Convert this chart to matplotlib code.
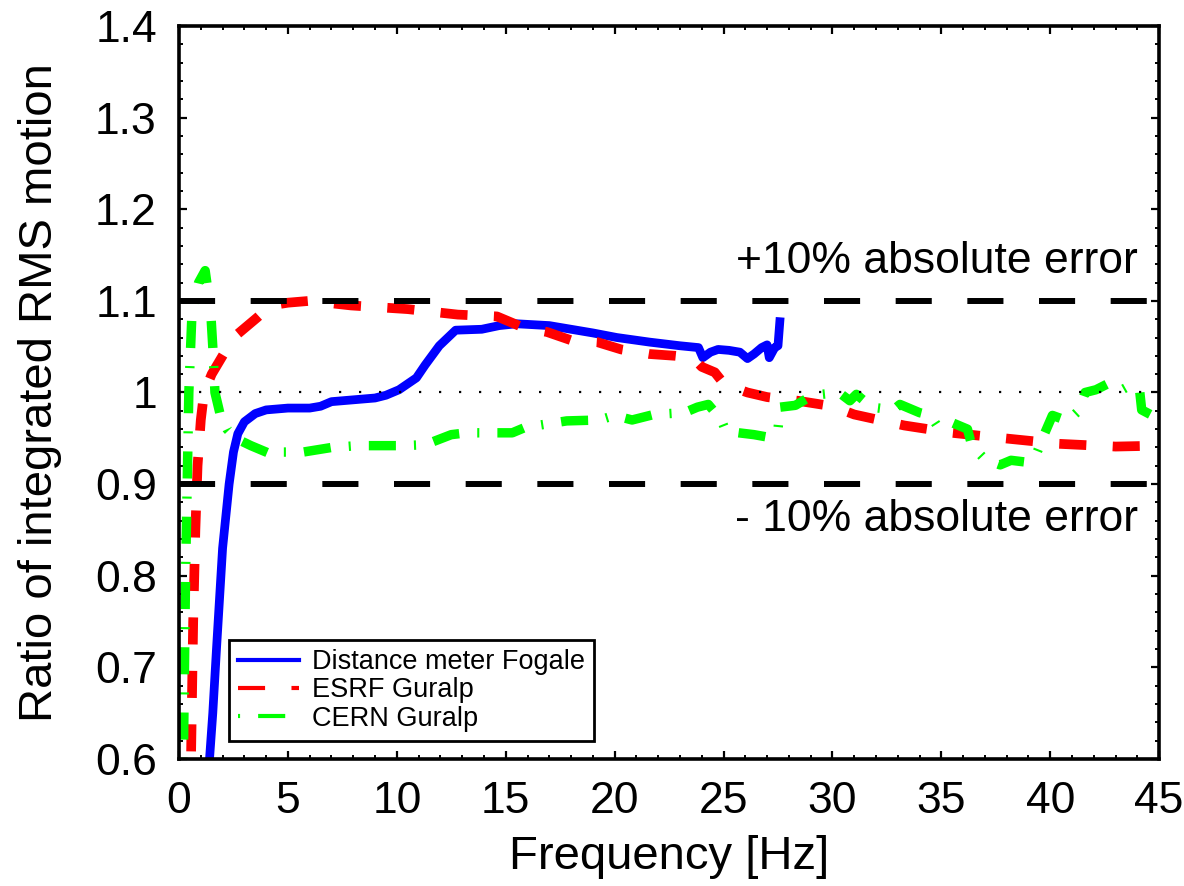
import matplotlib
matplotlib.use("Agg")
import matplotlib.pyplot as plt
from matplotlib.lines import Line2D
from matplotlib.ticker import MultipleLocator, FormatStrFormatter

plt.rcParams['font.family'] = ['Liberation Sans', 'DejaVu Sans']
plt.rcParams['lines.scale_dashes'] = False

# ---- data ----
blue_f = [1.30, 1.40, 1.55, 1.72, 2.0, 2.3, 2.5, 2.7, 3.0, 3.5, 4.0, 5.0, 6.0, 6.5, 7.0, 8.0, 9.0, 9.5,
          10.1, 10.9, 11.3, 11.95, 12.7, 13.9, 14.7, 15.5, 17.0, 19.0, 20.1, 21.6, 23.0, 23.85,
          24.05, 24.4, 24.75, 25.25, 25.75, 26.1, 26.4, 26.75, 27.0, 27.1, 27.35, 27.5, 27.6]
blue_v = [0.57, 0.60, 0.65, 0.72, 0.83, 0.90, 0.935, 0.955, 0.968, 0.977, 0.981, 0.983, 0.983, 0.985,
          0.990, 0.992, 0.994, 0.997, 1.003, 1.016, 1.030, 1.051, 1.068, 1.069, 1.073, 1.075, 1.073,
          1.065, 1.060, 1.055, 1.051, 1.049, 1.038, 1.044, 1.047, 1.046, 1.044, 1.037, 1.042, 1.049,
          1.052, 1.038, 1.049, 1.051, 1.082]

red_f = [0.50, 0.55, 0.65, 0.75, 0.85, 1.0, 1.15, 1.5, 2.0, 2.5, 3.0, 3.6, 4.2, 5.0, 6.0, 7.9, 10.5,
         12.8, 14.6, 15.8, 16.9, 18.0, 19.2, 20.3, 21.6, 22.8, 23.6, 24.0, 24.6, 25.0, 25.5, 26.1,
         27.0, 28.4, 30.0, 31.0, 33.3, 35.5, 37.9, 40.4, 43.0, 45.0]
red_v = [0.55, 0.60, 0.75, 0.85, 0.92, 0.97, 1.00, 1.02, 1.04, 1.06, 1.07, 1.082, 1.095, 1.098, 1.100,
         1.095, 1.091, 1.085, 1.083, 1.071, 1.066, 1.057, 1.055, 1.047, 1.042, 1.040, 1.038, 1.028,
         1.022, 1.010, 1.005, 1.000, 0.995, 0.991, 0.985, 0.976, 0.964, 0.956, 0.950, 0.944, 0.941,
         0.942]

green_f = [0.15, 0.2, 0.3, 0.45, 0.6, 0.9, 1.2, 1.45, 1.55, 1.65, 1.9, 2.2, 2.6, 3.3, 4.0, 4.4, 4.8,
           5.7, 7.0, 8.2, 10.2, 11.3, 12.5, 13.2, 15.3, 15.9, 17.8, 19.3, 20.0, 20.8, 21.8, 23.2,
           23.8, 24.3, 24.9, 25.1, 25.7, 26.4, 27.1, 27.5, 27.6, 28.3, 28.8, 29.5, 30.3, 30.8, 31.1,
           31.8, 32.8, 33.1, 34.0, 34.5, 34.8, 35.5, 36.2, 36.4, 37.0, 37.7, 38.2, 38.9, 39.4, 39.7,
           40.1, 40.8, 41.3, 41.6, 42.1, 42.6, 43.3, 43.6, 44.1, 44.2, 44.6, 45.0]
green_v = [0.55, 0.60, 0.80, 1.00, 1.09, 1.12, 1.133, 1.09, 1.05, 1.00, 0.975, 0.96, 0.95, 0.942,
           0.935, 0.931, 0.935, 0.935, 0.940, 0.942, 0.942, 0.943, 0.954, 0.956, 0.956, 0.962,
           0.969, 0.970, 0.975, 0.970, 0.976, 0.978, 0.984, 0.987, 0.970, 0.958, 0.956, 0.954,
           0.951, 0.960, 0.984, 0.986, 0.993, 0.998, 1.000, 0.991, 0.998, 0.984, 0.981, 0.987,
           0.978, 0.975, 0.964, 0.967, 0.960, 0.942, 0.927, 0.921, 0.926, 0.924, 0.935, 0.953,
           0.975, 0.969, 0.980, 1.000, 1.003, 1.009, 1.003, 1.007, 1.003, 0.981, 0.976, 0.984]

series_names = ['Distance meter Fogale', 'ESRF Guralp', 'CERN Guralp']
upper_limit = 1.1
lower_limit = 0.9
unity = 1.0
upper_text = '+10% absolute error'
lower_text = '- 10% absolute error'

# ---- figure ----
fig = plt.figure(figsize=(11.84, 8.86), dpi=100)
ax = fig.add_axes([0.1512, 0.1433, 0.8278, 0.8274])

blue_c = '#0000ff'
red_c = '#ff0000'
green_c = '#00ff00'

red_dash = (0, (19.5, 19.0))
green_dash = (0, (19.5, 13.0, 1.5, 13.0))

ax.plot(blue_f, blue_v, color=blue_c, lw=6.3, solid_capstyle='butt', zorder=2)
ax.plot(red_f, red_v, color=red_c, lw=7.0, linestyle=red_dash, zorder=2.1)
ax.plot(green_f, green_v, color=green_c, lw=6.8, linestyle=green_dash, zorder=2.2)

ax.plot([0, 45], [upper_limit, upper_limit], color='black', lw=4.3,
        linestyle=(0, (26, 25.6)), zorder=3)
ax.plot([0, 45], [lower_limit, lower_limit], color='black', lw=4.3,
        linestyle=(0, (26, 25.6)), zorder=3)
ax.plot([0, 45], [unity, unity], color='black', lw=1.6,
        linestyle=(0, (1.6, 12.8)), zorder=3)

ax.text(44.03, 1.1308, upper_text, ha='right', va='baseline', fontsize=32)
ax.text(44.03, 0.8492, lower_text, ha='right', va='baseline', fontsize=32)

ax.set_xlim(0, 45)
ax.set_ylim(0.6, 1.4)
ax.xaxis.set_major_locator(MultipleLocator(5))
ax.xaxis.set_minor_locator(MultipleLocator(1))
ax.yaxis.set_major_locator(MultipleLocator(0.1))
ax.yaxis.set_minor_locator(MultipleLocator(0.02))
ax.yaxis.set_major_formatter(FormatStrFormatter('%g'))

ax.tick_params(which='both', direction='in', top=True, right=True, labelsize=32)
ax.tick_params(which='major', length=6, width=1.6, pad=16)
ax.tick_params(which='minor', length=3, width=1.4)
for s in ax.spines.values():
    s.set_linewidth(2.6)

ax.set_xlabel('Frequency [Hz]', fontsize=34, labelpad=9)
ax.set_ylabel('Ratio of integrated RMS motion', fontsize=34, labelpad=24)

handles = [
    Line2D([], [], color=blue_c, lw=3.0),
    Line2D([], [], color=red_c, lw=3.0, linestyle=(0, (19.5, 19.0))),
    Line2D([], [], color=green_c, lw=3.0, linestyle=(0, (1.5, 13.0, 19.5, 13.0))),
]
leg = ax.legend(handles, series_names, loc='lower left', bbox_to_anchor=(0.051, 0.0246),
                fontsize=19.5, frameon=True, fancybox=False, framealpha=1,
                edgecolor='black', handlelength=2.25, handletextpad=0.45,
                borderpad=0.35, labelspacing=0.08, borderaxespad=0)
leg.get_frame().set_linewidth(2.0)

fig.savefig('out.png', dpi=100)
